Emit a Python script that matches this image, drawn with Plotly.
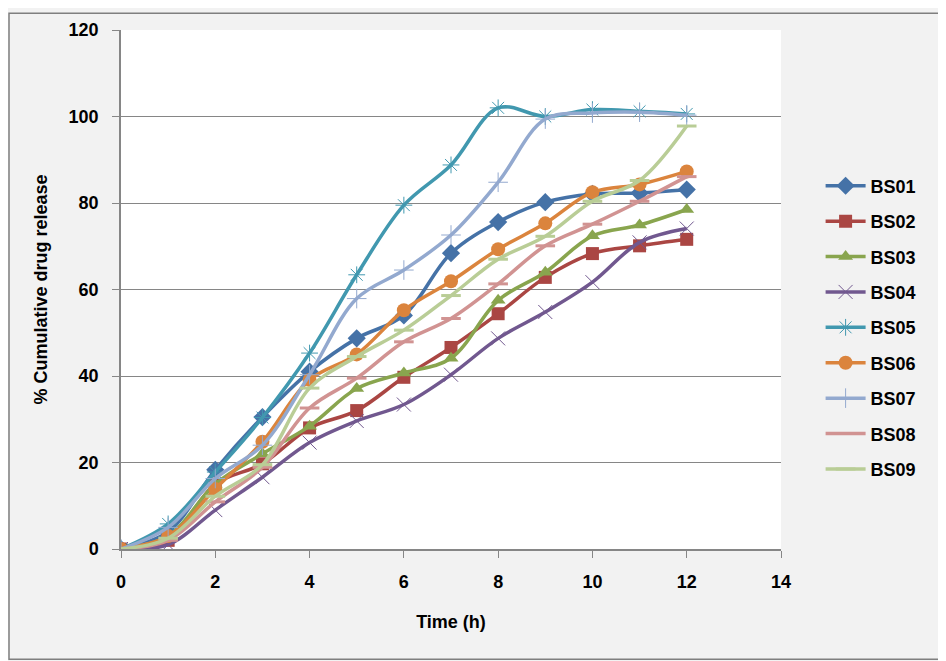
import plotly.graph_objects as go

time_h = [0, 1, 2, 3, 4, 5, 6, 7, 8, 9, 10, 11, 12]
bs01 = [0, 4.0, 18.3, 30.5, 41.0, 48.7, 54.0, 68.4, 75.6, 80.2, 82.1, 82.3, 83.1]
bs02 = [0, 2.0, 15.0, 19.7, 28.0, 32.0, 39.7, 46.6, 54.4, 62.8, 68.3, 70.1, 71.6]
bs03 = [0, 3.0, 15.0, 22.0, 28.4, 37.1, 40.7, 44.1, 57.5, 64.0, 72.4, 74.9, 78.5]
bs04 = [0, 1.0, 9.0, 16.6, 24.6, 29.6, 33.4, 40.3, 48.7, 54.8, 61.7, 70.9, 74.1]
bs05 = [0, 5.8, 17.8, 30.4, 45.3, 63.4, 79.5, 88.8, 102.0, 100.0, 101.6, 101.2, 100.6]
bs06 = [0, 3.0, 13.9, 24.8, 39.1, 45.0, 55.2, 61.9, 69.3, 75.3, 82.5, 84.3, 87.3]
bs07 = [0, 5.0, 16.3, 24.0, 40.3, 57.9, 64.5, 72.6, 84.8, 99.4, 100.8, 101.0, 100.3]
bs08 = [0, 2.0, 10.9, 18.9, 32.6, 39.5, 47.9, 53.3, 61.3, 70.1, 75.1, 80.4, 86.1]
bs09 = [0, 2.5, 12.2, 19.5, 37.2, 44.5, 50.6, 58.6, 67.0, 72.3, 80.4, 85.2, 97.8]

names = ["BS01", "BS02", "BS03", "BS04", "BS05", "BS06", "BS07", "BS08", "BS09"]
series = [bs01, bs02, bs03, bs04, bs05, bs06, bs07, bs08, bs09]
colors = ["#4572A7", "#AA4643", "#89A54E", "#71588F", "#4198AF",
          "#DB843D", "#93A9CF", "#D19392", "#B9CD96"]
symbols = ["diamond", "square", "triangle-up", "x-thin-open", "asterisk-open",
           "circle", "cross-thin-open", "line-ew-open", "line-ew-open"]
sizes = [14, 13, 13, 14, 14, 14, 14, 14, 14]

fig = go.Figure()
for n, s, c, sym, sz in zip(names, series, colors, symbols, sizes):
    if "line-ew" in sym:
        mlw = 3
    elif "thin" in sym or "asterisk" in sym:
        mlw = 1
    else:
        mlw = 0
    fig.add_trace(go.Scatter(
        x=time_h, y=s, name=n, mode="lines+markers",
        line=dict(color=c, width=3.5, shape="spline", smoothing=1.0),
        marker=dict(symbol=sym, size=sz, color=c, line=dict(color=c, width=mlw)),
        legendgroup=n,
    ))

font_main = "Liberation Sans, Arial, sans-serif"
W, H = 938, 653
L, R, T, B = 113, 165, 18, 112
pw, ph = W - L - R, H - T - B

fig.update_layout(
    width=W, height=H,
    margin=dict(l=L, r=R, t=T, b=B),
    paper_bgcolor="#F2F2F2",
    plot_bgcolor="#FFFFFF",
    font=dict(family=font_main, size=18, color="#000000"),
    showlegend=True,
    legend=dict(x=1.06, y=0.735, xanchor="left", yanchor="top",
                bgcolor="rgba(0,0,0,0)", font=dict(size=18, family=font_main, weight="bold"),
                tracegroupgap=9, itemwidth=40),
    xaxis=dict(range=[0, 14], dtick=2, tick0=0, showgrid=False,
               showline=True, linecolor="#868686", linewidth=1.5,
               ticks="outside", ticklen=7, tickcolor="#868686",
               ticklabelstandoff=9,
               tickfont=dict(size=18, family=font_main, weight="bold"),
               title=dict(text="<b>Time (h)</b>", font=dict(size=18), standoff=24),
               zeroline=False),
    yaxis=dict(range=[0, 120], dtick=20, tick0=0, showgrid=True,
               gridcolor="#868686", gridwidth=1,
               showline=True, linecolor="#868686", linewidth=1.5,
               ticks="outside", ticklen=7, tickcolor="#868686",
               ticklabelstandoff=10,
               tickfont=dict(size=18, family=font_main, weight="bold"),
               title=dict(text="<b>% Cumulative drug release</b>", font=dict(size=18), standoff=16),
               zeroline=False),
    shapes=[dict(type="rect", xref="paper", yref="paper",
                 x0=-112 / pw, x1=(943 - 121) / pw, y0=-(H - T - 1 - ph) / ph, y1=(ph + T - 1) / ph,
                 line=dict(color="#7F7F7F", width=1.5), fillcolor="rgba(0,0,0,0)", layer="below")],
)

fig.write_html("out.html")
